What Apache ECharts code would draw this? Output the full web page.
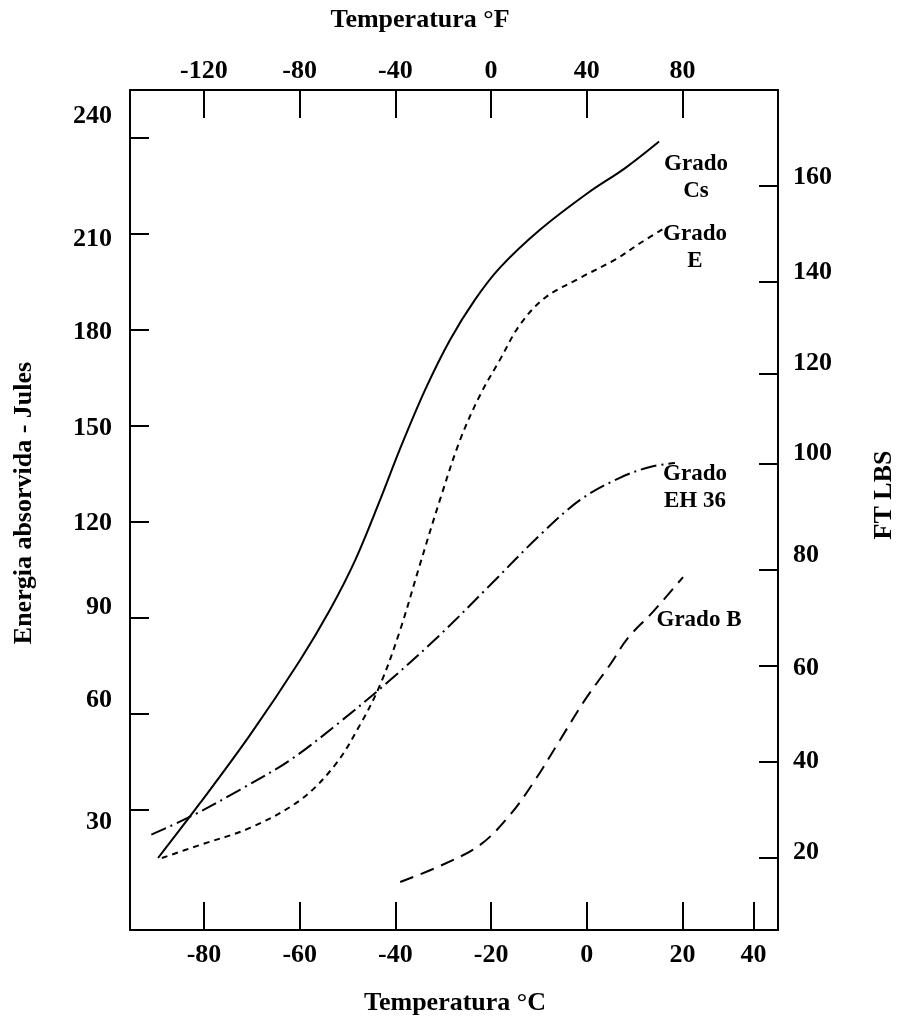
<!DOCTYPE html>
<html>
<head>
<meta charset="utf-8">
<script src="https://cdn.jsdelivr.net/npm/echarts/dist/echarts.min.js"></script>
<style>
  html, body { margin: 0; padding: 0; background: #fff; }
  #chart { width: 900px; height: 1023px; }
</style>
</head>
<body>
<div id="chart"></div>
<script>
// curvas: [temperatura °C, energia J]
const gradoCs = [[-89.6, 15], [-80.8, 32.2], [-70.4, 53.4], [-59.9, 76.9], [-53.7, 92.5], [-48.4, 108.1],
  [-43.2, 126.9], [-39.0, 143.0], [-33.8, 161.3], [-28.6, 176.9], [-23.4, 189.4], [-18.2, 199.4],
  [-9.8, 211.3], [0.2, 222.8], [8.0, 230.6], [15.1, 238.9]];
const gradoE = [[-88.8, 15], [-80.8, 19.1], [-70.4, 24.4], [-59.9, 33.1], [-52.6, 44.1], [-47.4, 56.6],
  [-43.2, 69.1], [-39.0, 86.3], [-34.9, 106.6], [-30.7, 126.9], [-26.5, 145.6], [-22.3, 159.7],
  [-18.2, 170.6], [-14.0, 181.6], [-8.8, 190], [-1.4, 196.3], [5.9, 202], [11.5, 207.5], [16.3, 211.9]];
const gradoEH36 = [[-91.0, 22.3], [-82.9, 27.9], [-72.5, 36.3], [-62.0, 45.6], [-51.6, 57.5], [-41.1, 70.6],
  [-30.7, 84.7], [-20.2, 100.3], [-9.8, 115.9], [-1.4, 126.9], [6.9, 133.8], [13.2, 137.2], [18.4, 138.4]];
const gradoB = [[-39.0, 7.5], [-30.7, 12.5], [-22.3, 19.1], [-16.1, 28.4], [-10.8, 39.4], [-5.6, 51.9],
  [-0.4, 64.4], [4.8, 75.3], [8.6, 83.8], [13.8, 91.9], [20.1, 102.8]];

// ejes (las marcas del original no son del todo regulares)
const celsiusTicks = [-80, -60, -40, -20, 0, 20, 34.8];
const celsiusLabels = ['-80', '-60', '-40', '-20', '0', '20', '40'];
const fahrenheitTicks = [-120, -80, -40, 0, 40, 80];
const fahrenheitLabels = ['-120', '-80', '-40', '0', '40', '80'];
const julesTicks = [240, 210, 180, 150, 120, 90, 60, 30];
const julesLabelPos = [246.9, 208.4, 179.4, 149.4, 119.7, 93.4, 64.4, 26.3];
const julesLabels = ['240', '210', '180', '150', '120', '90', '60', '30'];
const ftlbTicks = [160, 140, 120.8, 102.1, 80, 60, 40, 20];
const ftlbLabelPos = [161.9, 142.1, 123.1, 104.4, 83.1, 59.6, 40.2, 21.1];
const ftlbLabels = ['160', '140', '120', '100', '80', '60', '40', '20'];

const FONT = '"Liberation Serif", "Times New Roman", serif';

function labelFor(positions, labels) {
  return function (value) {
    let best = 0;
    for (let i = 1; i < positions.length; i++) {
      if (Math.abs(positions[i] - value) < Math.abs(positions[best] - value)) best = i;
    }
    return labels[best];
  };
}

function axisBase(tickLen) {
  return {
    type: 'value',
    axisLine: { show: true, onZero: false, lineStyle: { color: '#000', width: 2 } },
    axisTick: { show: true, inside: true, length: tickLen, lineStyle: { color: '#000', width: 2 } },
    splitLine: { show: false },
  };
}

const labelStyle = { color: '#000', fontFamily: FONT, fontWeight: 'bold', fontSize: 26 };

let chart = echarts.init(document.getElementById('chart'), null, { renderer: 'canvas' });

const bottomX = axisBase(28);
bottomX.position = 'bottom';
bottomX.min = -95.46;
bottomX.max = 39.94;
bottomX.axisTick.customValues = celsiusTicks;
bottomX.axisLabel = Object.assign({ customValues: celsiusTicks, formatter: labelFor(celsiusTicks, celsiusLabels), margin: 12 }, labelStyle);

const topX = axisBase(28);
topX.position = 'top';
topX.min = -150.9;
topX.max = 119.9;
topX.axisTick.customValues = fahrenheitTicks;
topX.axisLabel = Object.assign({ customValues: fahrenheitTicks, formatter: labelFor(fahrenheitTicks, fahrenheitLabels), margin: 6 }, labelStyle);

const leftY = axisBase(19);
leftY.position = 'left';
leftY.min = -7.5;
leftY.max = 255;
leftY.axisTick.customValues = julesTicks;
leftY.axisLabel = Object.assign({ customValues: julesLabelPos, formatter: labelFor(julesLabelPos, julesLabels), margin: 18 }, labelStyle);

const rightY = axisBase(19);
rightY.position = 'right';
rightY.min = 5;
rightY.max = 180;
rightY.axisTick.customValues = ftlbTicks;
rightY.axisLabel = Object.assign({ customValues: ftlbLabelPos, formatter: labelFor(ftlbLabelPos, ftlbLabels), margin: 15 }, labelStyle);

function curve(name, data, type) {
  return {
    name: name,
    type: 'line',
    data: data,
    smooth: 0.35,
    symbol: 'none',
    xAxisIndex: 0,
    yAxisIndex: 0,
    lineStyle: { color: '#000', width: 2, type: type },
  };
}

function text(str, x, y, size, rotation) {
  return {
    type: 'text',
    x: x,
    y: y,
    rotation: rotation || 0,
    style: {
      text: str,
      font: 'bold ' + size + 'px ' + FONT,
      fill: '#000',
      textAlign: 'center',
      textVerticalAlign: 'middle',
      lineHeight: 27,
    },
  };
}

const option = {
  animation: false,
  backgroundColor: '#fff',
  grid: { left: 130, right: 122, top: 90, bottom: 93, containLabel: false },
  xAxis: [bottomX, topX],
  yAxis: [leftY, rightY],
  series: [
    curve('Grado Cs', gradoCs, 'solid'),
    curve('Grado E', gradoE, [6, 5]),
    curve('Grado EH 36', gradoEH36, [16, 5, 2, 5]),
    curve('Grado B', gradoB, [14, 8]),
  ],
  graphic: [
    text('Temperatura °F', 420, 20, 26),
    text('Temperatura °C', 455, 1003, 26),
    text('Energia absorvida - Jules', 24, 503, 26, Math.PI / 2),
    text('FT LBS', 884, 495, 26, Math.PI / 2),
    text('Grado\nCs', 696, 178, 23),
    text('Grado\nE', 695, 248, 23),
    text('Grado\nEH 36', 695, 488, 23),
    text('Grado B', 699, 620, 23),
  ],
};

chart.setOption(option);
</script>
</body>
</html>
